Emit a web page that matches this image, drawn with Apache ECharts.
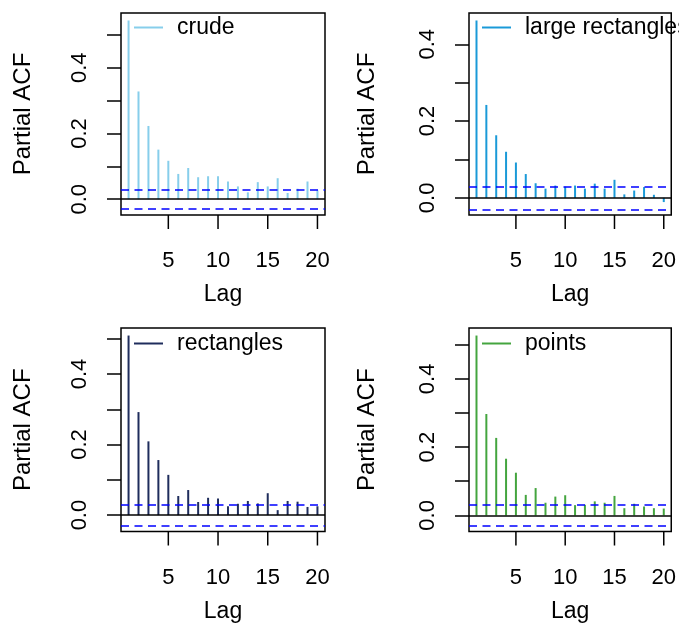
<!DOCTYPE html>
<html><head><meta charset="utf-8">
<script src="https://cdn.jsdelivr.net/npm/echarts@6/dist/echarts.min.js"></script>
<style>html,body{margin:0;padding:0;background:#fff}#c{width:679px;height:624px}</style>
</head><body><div id="c"></div>
<script>
// ---- data ----
const lags = [1,2,3,4,5,6,7,8,9,10,11,12,13,14,15,16,17,18,19,20];
const crude = [0.544,0.328,0.223,0.151,0.117,0.077,0.095,0.067,0.070,0.070,0.054,0.039,0.021,0.052,0.039,0.064,0.019,0.032,0.054,0.027];
const largeRectangles = [0.462,0.242,0.163,0.120,0.092,0.062,0.038,0.024,0.032,0.029,0.032,0.024,0.037,0.024,0.047,0.009,0.019,0.028,0.008,-0.011];
const rectangles = [0.509,0.292,0.209,0.156,0.114,0.054,0.071,0.037,0.049,0.047,0.025,0.032,0.040,0.033,0.062,0.014,0.040,0.038,0.023,0.025];
const points = [0.527,0.297,0.227,0.166,0.125,0.060,0.080,0.037,0.055,0.059,0.030,0.031,0.041,0.037,0.057,0.021,0.034,0.026,0.021,0.020];
const seriesNames = ['crude','large rectangles','rectangles','points'];
const confLimit = 0.0252;
const xTicks = [5,10,15,20];
const yTicks = [0,0.1,0.2,0.3,0.4,0.5];
const yLabels = [0,0.2,0.4];
const xTitle = 'Lag';
const yTitle = 'Partial ACF';

// ---- layout / style ----
const allVals = [crude, largeRectangles, rectangles, points];
const colors = ['#87CEEB','#1A9AD8','#1F2D5C','#44A53F'];
const grids = [
  {left:121, top:13, width:204, height:202},
  {left:469, top:13, width:204, height:202},
  {left:121, top:328, width:204, height:203.5},
  {left:469, top:328, width:204, height:203.5}
];
const nameGaps = [86, 89.5, 86, 89.5];
const legendTops = [16, 16, 332, 332];
const FONT = "'Liberation Sans', Arial, Helvetica, sans-serif";
const FS_TICK = 22, FS_TXT = 23, FS_YT = 24;
const TICK_LEN = 14;

const option = {
  animation:false,
  backgroundColor:'#fff',
  textStyle:{fontFamily:FONT},
  grid:[], xAxis:[], yAxis:[], series:[], legend:[]
};
const yMins = [];

allVals.forEach((vals, i) => {
  const g = grids[i];
  option.grid.push({left:g.left, top:g.top, width:g.width, height:g.height,
    show:true, borderColor:'#000', borderWidth:1.5, backgroundColor:'transparent', containLabel:false});
  const lo = Math.min(-confLimit, Math.min(...vals));
  const hi = Math.max(confLimit, Math.max(...vals));
  const ext = 0.04*(hi-lo);
  const ymin = lo-ext, ymax = hi+ext;
  yMins.push(ymin);
  const xlo = lags[0], xhi = lags[lags.length-1];
  const xext = 0.04*(xhi-xlo);
  option.xAxis.push({
    type:'value', gridIndex:i, min:xlo-xext, max:xhi+xext, position:'bottom',
    name:xTitle, nameLocation:'middle', nameGap:68.5,
    nameTextStyle:{fontSize:FS_TXT, color:'#000', fontFamily:FONT},
    axisLine:{show:false, onZero:false}, splitLine:{show:false},
    axisTick:{show:false},
    axisLabel:{show:true, customValues:xTicks, margin:35, fontSize:FS_TICK, color:'#000', fontFamily:FONT}
  });
  const yt = yTicks.filter(v => v <= ymax && v >= ymin);
  const yl = yLabels.filter(v => v <= ymax && v >= ymin);
  option.yAxis.push({
    type:'value', gridIndex:i, min:ymin, max:ymax, position:'left',
    name:yTitle, nameLocation:'middle', nameGap:nameGaps[i], nameRotate:90,
    nameTextStyle:{fontSize:FS_YT, color:'#000', fontFamily:FONT},
    axisLine:{show:false, onZero:false}, splitLine:{show:false},
    axisTick:{show:true, length:TICK_LEN, customValues:yt, lineStyle:{color:'#000', width:1.5}},
    axisLabel:{show:true, customValues:yl, rotate:90, margin:30, fontSize:FS_TICK, color:'#000', fontFamily:FONT,
      formatter:v => Number(v).toFixed(1)}
  });
  option.series.push({
    type:'bar', name:seriesNames[i], xAxisIndex:i, yAxisIndex:i,
    data:lags.map((l,k)=>[l, vals[k]]),
    barWidth:2, itemStyle:{color:colors[i]}, silent:true,
    markLine:{
      silent:true, symbol:['none','none'], label:{show:false}, animation:false,
      data:[
        {yAxis:0, lineStyle:{color:'#000', width:1.5, type:'solid'}},
        {yAxis:confLimit, lineStyle:{color:'#0000FF', width:1.6, type:[8,5.5]}},
        {yAxis:-confLimit, lineStyle:{color:'#0000FF', width:1.6, type:[8,5.5]}}
      ]
    }
  });
  option.legend.push({
    data:[seriesNames[i]], left:g.left+13, top:legendTops[i], padding:0,
    icon:'rect', itemWidth:29, itemHeight:2, selectedMode:false,
    textStyle:{fontSize:FS_TXT, color:'#000', fontFamily:FONT, padding:[0,0,0,9]}
  });
});

const chart = echarts.init(document.getElementById('c'), null, {renderer:'canvas'});
chart.setOption(option);

// x-axis tick marks below each box, positioned through the axis scales
try {
  const tickEls = [];
  yMins.forEach((ymin, i) => {
    xTicks.forEach(t => {
      const p = chart.convertToPixel({xAxisIndex:i, yAxisIndex:i}, [t, ymin]);
      if (p && isFinite(p[0]) && isFinite(p[1])) {
        tickEls.push({type:'line', silent:true, z:100,
          shape:{x1:p[0], y1:p[1], x2:p[0], y2:p[1]+TICK_LEN},
          style:{stroke:'#000', lineWidth:1.5}});
      }
    });
  });
  chart.setOption({graphic:{elements:tickEls}});
} catch (e) { console.error(e); }
</script>
</body></html>
